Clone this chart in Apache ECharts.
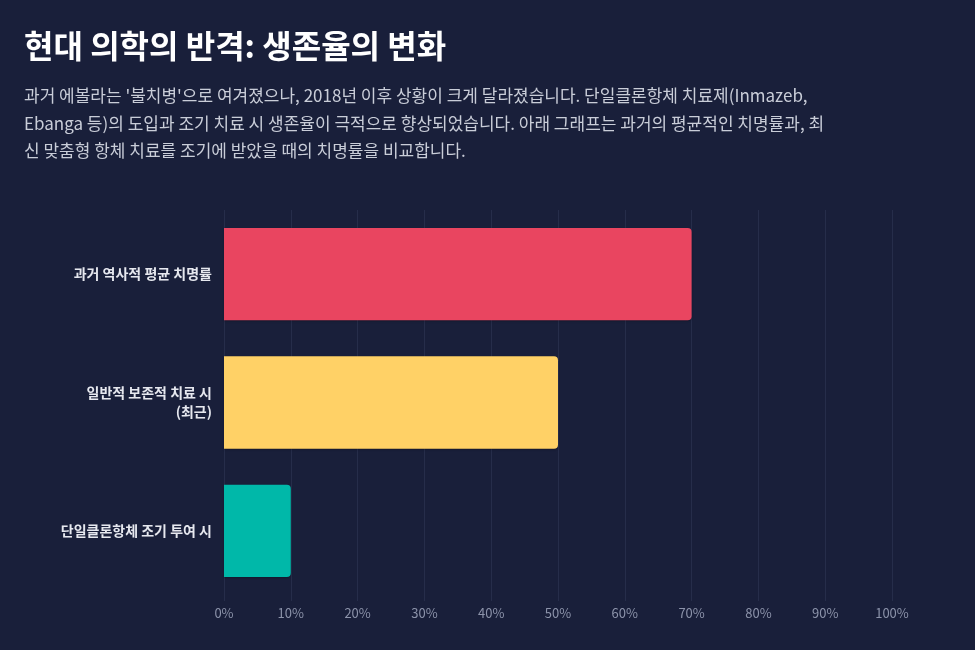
<!DOCTYPE html>
<html>
<head>
<meta charset="utf-8">
<script src="https://cdn.jsdelivr.net/npm/echarts@6/dist/echarts.min.js"></script>
<style>
  html, body { margin: 0; padding: 0; background: #191f3a; }
  #chart { width: 975px; height: 650px; }
</style>
</head>
<body>
<div id="chart"></div>
<script>
const titleText = '현대 의학의 반격: 생존율의 변화';
const subText = [
  "과거 에볼라는 '불치병'으로 여겨졌으나, 2018년 이후 상황이 크게 달라졌습니다. 단일클론항체 치료제(Inmazeb,",
  'Ebanga 등)의 도입과 조기 치료 시 생존율이 극적으로 향상되었습니다. 아래 그래프는 과거의 평균적인 치명률과, 최',
  '신 맞춤형 항체 치료를 조기에 받았을 때의 치명률을 비교합니다.'
];
const categories = ['과거 역사적 평균 치명률', '일반적 보존적 치료 시\n(최근)', '단일클론항체 조기 투여 시'];
const fatality = [70, 50, 10];
const barColors = ['#e94560', '#ffd166', '#00b8a9'];
const tickLabels = ['0%', '10%', '20%', '30%', '40%', '50%', '60%', '70%', '80%', '90%', '100%'];

const font = '"Noto Sans CJK KR", "Noto Sans", sans-serif';

const chart = echarts.init(document.getElementById('chart'));
chart.setOption({
  backgroundColor: '#191f3a',
  title: {
    text: titleText,
    subtext: subText.join('\n'),
    left: 24,
    top: 30,
    padding: 0,
    itemGap: 20,
    textStyle: { color: '#ffffff', fontSize: 32, fontWeight: 'bold', fontFamily: font },
    subtextStyle: { color: '#c9cdd8', fontSize: 17, lineHeight: 27.5, fontFamily: font }
  },
  grid: { left: 224, right: 83, top: 210, bottom: 55 },
  xAxis: {
    type: 'value',
    min: 0,
    max: 100,
    interval: 10,
    axisLine: { show: false },
    axisTick: { show: true, length: 6, lineStyle: { color: '#262d4a' } },
    splitLine: { show: true, lineStyle: { color: '#262d4a', width: 1 } },
    axisLabel: {
      color: '#8c93aa',
      fontSize: 13,
      fontFamily: font,
      margin: 12,
      formatter: (v) => tickLabels[Math.round(v / 10)]
    }
  },
  yAxis: {
    type: 'category',
    data: categories,
    inverse: true,
    axisLine: { show: false },
    axisTick: { show: false },
    axisLabel: {
      color: '#e6e8ef',
      fontSize: 14,
      fontWeight: 'bold',
      fontFamily: font,
      margin: 12,
      lineHeight: 19,
      align: 'right'
    }
  },
  series: [{
    type: 'bar',
    barCategoryGap: '28%',
    data: fatality.map((v, i) => ({
      value: v,
      itemStyle: { color: barColors[i] }
    })),
    itemStyle: {
      borderRadius: [0, 4, 4, 0],
      shadowColor: 'rgba(0,0,0,0.25)',
      shadowBlur: 2,
      shadowOffsetY: 1
    },
    label: { show: false }
  }]
});
</script>
</body>
</html>
